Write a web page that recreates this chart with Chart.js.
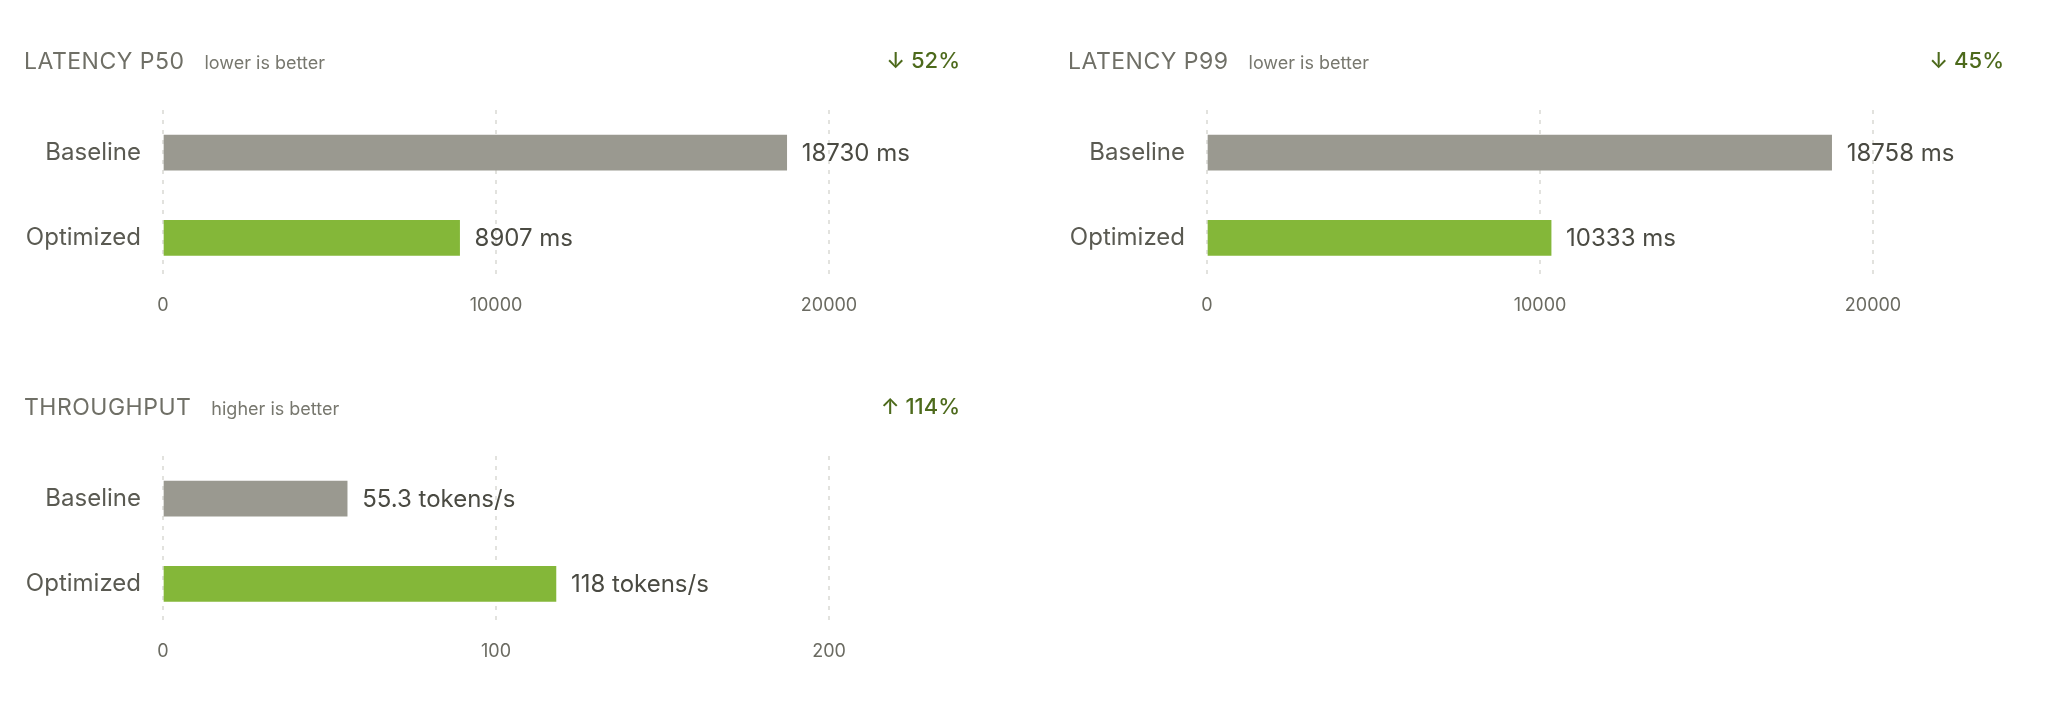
<!DOCTYPE html>
<html><head><meta charset="utf-8">
<script src="https://cdn.jsdelivr.net/npm/chart.js@4.4.1/dist/chart.umd.min.js"></script>
<style>
body{margin:0;background:#fff;font-family:Inter,"Noto Sans",sans-serif;width:2048px;height:718px;position:relative;overflow:hidden}
.panel{position:absolute;width:936px}
.hdr{position:absolute;left:0;top:0;width:936px;height:40px;z-index:2}
.t{position:absolute;left:0;top:7px;font-size:23px;color:#6f6f66;letter-spacing:0.5px;white-space:nowrap}
.s{font-size:18px;color:#77776e;margin-left:20px;letter-spacing:0}
.d{position:absolute;right:0;top:7px;font-size:22px;color:#4d6a1c;font-weight:500}
canvas{position:absolute;left:0;top:0}
</style></head><body>
<div class="panel" style="left:24px;top:40px"><div class="hdr"><span class="t">LATENCY P50<span class="s">lower is better</span></span><span class="d">↓ 52%</span></div><div style="position:absolute;top:0;width:936px;height:290px"><canvas id="c1"></canvas></div></div>
<div class="panel" style="left:1068px;top:40px"><div class="hdr"><span class="t">LATENCY P99<span class="s">lower is better</span></span><span class="d">↓ 45%</span></div><div style="position:absolute;top:0;width:936px;height:290px"><canvas id="c2"></canvas></div></div>
<div class="panel" style="left:24px;top:386px"><div class="hdr"><span class="t">THROUGHPUT<span class="s">higher is better</span></span><span class="d">↑ 114%</span></div><div style="position:absolute;top:0;width:936px;height:290px"><canvas id="c3"></canvas></div></div>
<script>
const categories = ["Baseline", "Optimized"];
const p50Values = [18730, 8907];
const p99Values = [18758, 10333];
const throughputValues = [55.3, 118];
const latencyUnit = "ms";
const throughputUnit = "tokens/s";
const latencyMax = 20000, throughputMax = 200;
const latencyStep = 10000, throughputStep = 100;
const colors = ["#9a9990", "#84b739"];

const valueLabels = {
  id: 'valueLabels',
  afterDatasetsDraw(chart) {
    const ctx = chart.ctx, unit = chart.options.plugins.valueLabels.unit;
    const meta = chart.getDatasetMeta(0);
    ctx.save();
    ctx.font = '24px Inter, "Noto Sans", sans-serif';
    ctx.fillStyle = '#4a4a42';
    ctx.textBaseline = 'middle';
    meta.data.forEach((bar, i) => {
      ctx.fillText(chart.data.datasets[0].data[i] + ' ' + unit, bar.x + 15, bar.y + 1);
    });
    ctx.restore();
  }
};

function make(id, values, unit, max, step) {
  new Chart(document.getElementById(id), {
    type: 'bar',
    data: { labels: categories, datasets: [{ data: values, backgroundColor: colors, barThickness: 35, borderSkipped: false }] },
    options: {
      indexAxis: 'y', responsive: true, maintainAspectRatio: false, animation: false,
      layout: { padding: { top: 70, right: 131, bottom: 0, left: 0 } },
      plugins: { legend: { display: false }, tooltip: { enabled: false }, valueLabels: { unit } },
      scales: {
        x: { min: 0, max: max, ticks: { stepSize: step, color: '#6b6b62', font: { size: 18, family: 'Inter' }, padding: 14, callback: v => String(v) },
             grid: { color: '#e2e2de', drawTicks: false, lineWidth: 2 }, border: { display: false, dash: [4, 6] } },
        y: { ticks: { color: '#5a5a52', font: { size: 24, family: 'Inter' }, padding: 14 },
             grid: { display: false }, border: { display: false },
             afterFit: s => { s.width = 139; } }
      }
    },
    plugins: [valueLabels]
  });
}
make('c1', p50Values, latencyUnit, latencyMax, latencyStep);
make('c2', p99Values, latencyUnit, latencyMax, latencyStep);
make('c3', throughputValues, throughputUnit, throughputMax, throughputStep);
</script></body></html>
